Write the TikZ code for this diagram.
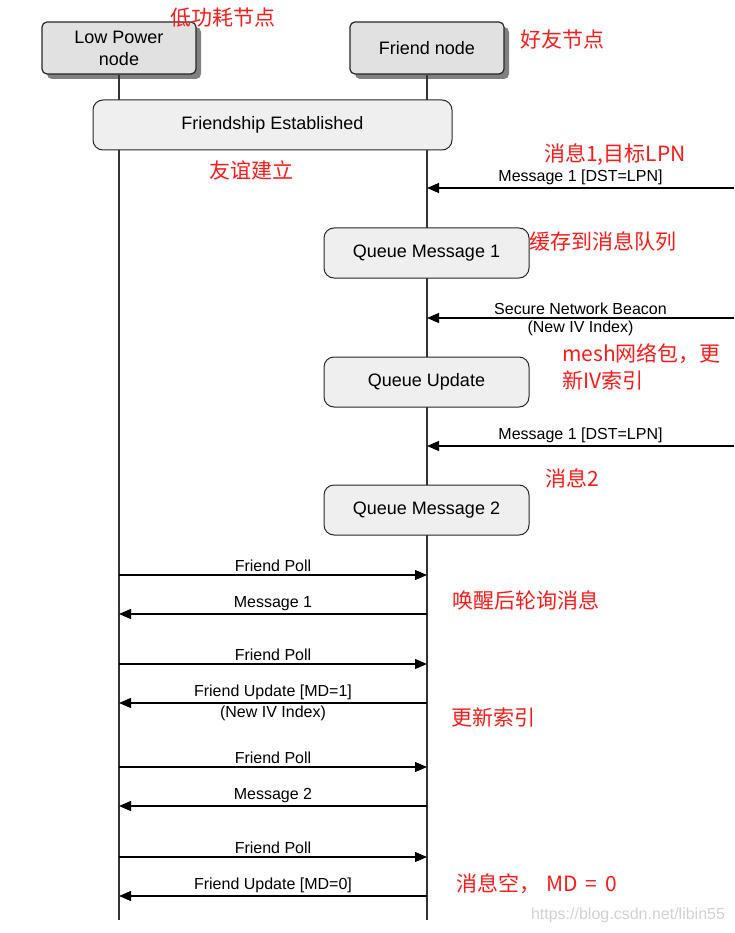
\documentclass[tikz,border=0pt]{standalone}
\usepackage{fontspec}
\setmainfont{Liberation Sans}
\newfontfamily\cjk{Noto Sans CJK SC}
\usetikzlibrary{arrows.meta,shadows}

\definecolor{headgray}{HTML}{E1E1E1}
\definecolor{boxgray}{HTML}{EFEFEF}
\definecolor{notered}{HTML}{FF1A1A}

\tikzset{
	head/.style={draw=black!85, fill=headgray, rounded corners=5pt, line width=1.2pt,
		minimum width=154pt, minimum height=52pt, align=center, font=\fontsize{18}{22}\selectfont,
		drop shadow={shadow xshift=5pt, shadow yshift=-5pt, fill=black!50, opacity=1}},
	stepbox/.style={draw=black!85, fill=boxgray, rounded corners=10pt, line width=1pt,
		minimum height=50pt, font=\fontsize{18}{22}\selectfont},
	msg/.style={-{Triangle[length=12pt,width=10pt]}, line width=1.2pt},
	lbl/.style={font=\fontsize{16}{19}\selectfont, inner sep=2.5pt},
	note/.style={text=notered, font=\cjk\fontsize{21}{27}\selectfont, inner sep=0pt},
	life/.style={line width=1.2pt, black!80}
}

\begin{document}
\begin{tikzpicture}[x=1pt,y=-1pt]
	\useasboundingbox (0,0) rectangle (734,933);
	
	\node[head] (lpn) at (119,48) {Low Power\\node};
	\node[head] (frd) at (427,48) {Friend node};
	\coordinate (lpnend) at (119,920);
	\coordinate (frdend) at (427,920);
	
	\draw[life] (lpn) -- (lpnend);
	\draw[life] (frd) -- (frdend);
	
	\node[stepbox, minimum width=359pt] (est) at (272.5,125) {Friendship Established};
	\node[stepbox, minimum width=205pt] (q1) at (426.5,253) {Queue Message 1};
	\node[stepbox, minimum width=205pt] (qu) at (426.5,382) {Queue Update};
	\node[stepbox, minimum width=205pt] (q2) at (426.5,510) {Queue Message 2};
	
	% messages coming from the mesh
	\coordinate (in1) at (734,188);   \coordinate (f1) at (427,188);
	\coordinate (in2) at (734,318);   \coordinate (f2) at (427,318);
	\coordinate (in3) at (734,446);   \coordinate (f3) at (427,446);
	
	\draw[msg] (in1) -- node[lbl,above] {Message 1 [DST=LPN]} (f1);
	\draw[msg] (in2) -- node[lbl,above] {Secure Network Beacon}
		node[lbl,below] {(New IV Index)} (f2);
	\draw[msg] (in3) -- node[lbl,above] {Message 1 [DST=LPN]} (f3);
	
	% polling
	\coordinate (l4) at (119,575);   \coordinate (f4) at (427,575);
	\coordinate (l5) at (119,614);   \coordinate (f5) at (427,614);
	\coordinate (l6) at (119,664);   \coordinate (f6) at (427,664);
	\coordinate (l7) at (119,703);   \coordinate (f7) at (427,703);
	\coordinate (l8) at (119,767);   \coordinate (f8) at (427,767);
	\coordinate (l9) at (119,806);   \coordinate (f9) at (427,806);
	\coordinate (l10) at (119,857);  \coordinate (f10) at (427,857);
	\coordinate (l11) at (119,896);  \coordinate (f11) at (427,896);
	
	\draw[msg] (l4) -- node[lbl,above] {Friend Poll} (f4);
	\draw[msg] (f5) -- node[lbl,above] {Message 1} (l5);
	\draw[msg] (l6) -- node[lbl,above] {Friend Poll} (f6);
	\draw[msg] (f7) -- node[lbl,above] {Friend Update [MD=1]}
		node[lbl,below] {(New IV Index)} (l7);
	\draw[msg] (l8) -- node[lbl,above] {Friend Poll} (f8);
	\draw[msg] (f9) -- node[lbl,above] {Message 2} (l9);
	\draw[msg] (l10) -- node[lbl,above] {Friend Poll} (f10);
	\draw[msg] (f11) -- node[lbl,above] {Friend Update [MD=0]} (l11);
	
	% red notes
	\node[note] (nlpn) at (223,18) {低功耗节点};
	\node[note] (nfrd) at (562,40) {好友节点};
	\node[note] (nest) at (251,170) {友谊建立};
	\node[note] (nm1) at (615,155) {消息1,目标LPN};
	\node[note] (nq1) at (603,241) {缓存到消息队列};
	\node[note, align=left, anchor=west] (nbeacon) at (562,367) {mesh网络包，更\\新IV索引};
	\node[note] (nm2) at (572,478) {消息2};
	\node[note] (npoll) at (526,600) {唤醒后轮询消息};
	\node[note] (nupd) at (493,717) {更新索引};
	\node[note, anchor=west] (nempty) at (456,884) {消息空，\hspace{6pt}MD\hspace{8pt}=\hspace{8pt}0};
	
	\node[text=black!18, font=\fontsize{16}{19}\selectfont] (mark) at (628,915) {https://blog.csdn.net/libin55};
\end{tikzpicture}
\end{document}
